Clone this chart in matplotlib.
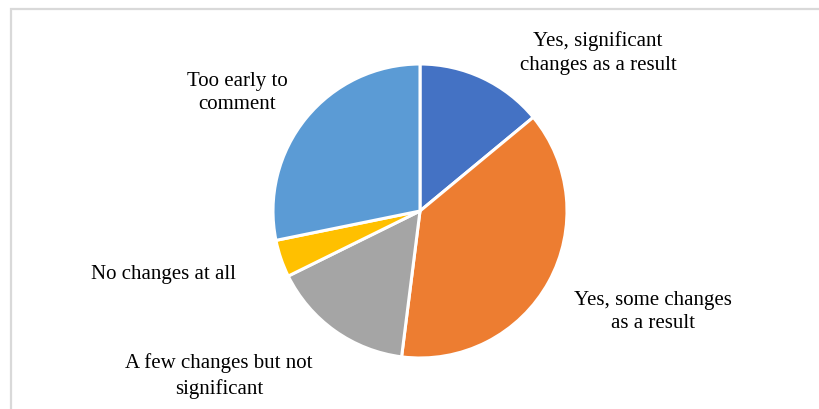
import matplotlib
matplotlib.use("Agg")
import matplotlib.pyplot as plt
from matplotlib.patches import Rectangle

categories = [
    "Yes, significant\nchanges as a result",
    "Yes, some changes\nas a result",
    "A few changes but not\nsignificant",
    "No changes at all",
    "Too early to\ncomment",
]
shares = [14.0, 38.0, 15.7, 4.1, 28.2]
colors = ["#4472C4", "#ED7D31", "#A5A5A5", "#FFC000", "#5B9BD5"]

# label anchor points in figure pixels (x from left, y from top)
label_px = [(598, 53), (653, 312), (219, 376), (163, 274), (237, 93)]

W, H = 819, 410
plt.rcParams["font.family"] = ["Liberation Serif", "DejaVu Serif"]

fig = plt.figure(figsize=(W / 100, H / 100), dpi=100)
fig.patch.set_facecolor("white")

# chart frame (only left and top edges fall inside the image)
fig.patches.append(Rectangle((10.5 / W, -0.1), 1.2, (H - 9.5) / H + 0.1,
                             transform=fig.transFigure, fill=False,
                             edgecolor="#D9D9D9", linewidth=1.6))

r = 147
cx, cy = 420, 212
ax = fig.add_axes([(cx - r) / W, (H - cy - r) / H, 2 * r / W, 2 * r / H])
ax.pie(shares, colors=colors, startangle=90, counterclock=False,
       wedgeprops=dict(edgecolor="white", linewidth=2.2))
ax.set_xlim(-1, 1)
ax.set_ylim(-1, 1)
ax.set_aspect("equal")
ax.axis("off")

for text, (px, py) in zip(categories, label_px):
    fig.text(px / W, 1 - py / H, text, ha="center", va="center",
             fontsize=15, color="#000000", linespacing=1.35)

fig.savefig("out.png", dpi=100, facecolor="white")
